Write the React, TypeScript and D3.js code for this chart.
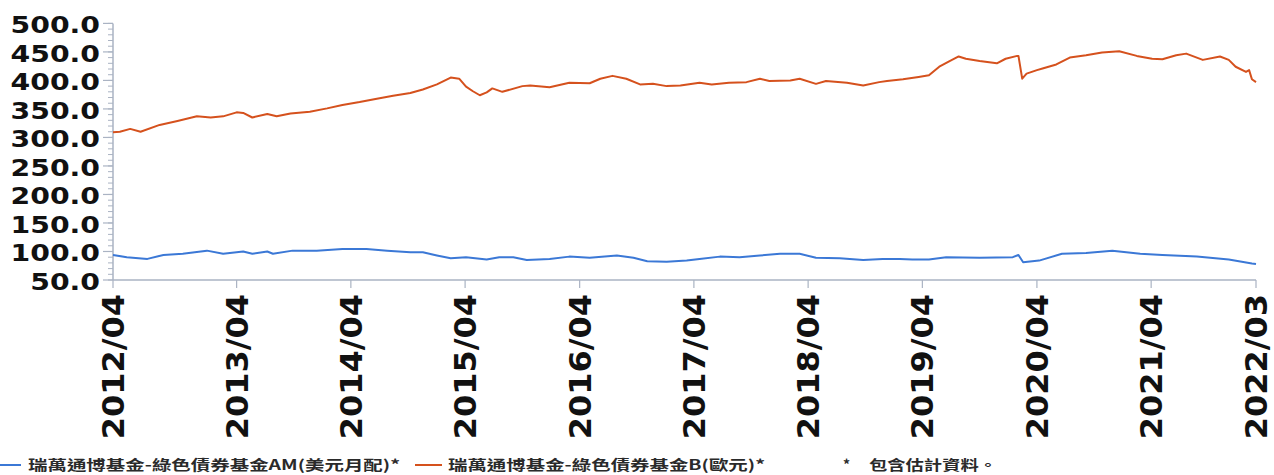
import React from "react";
import * as d3 from "d3";

const xTickDates = [
  "2012-03-02", "2013-04-01", "2014-04-01", "2015-04-01", "2016-04-01", "2017-04-01",
  "2018-04-01", "2019-04-01", "2020-04-01", "2021-04-01", "2022-03-02",
];
const xTickLabels = [
  "2012/04", "2013/04", "2014/04", "2015/04", "2016/04", "2017/04",
  "2018/04", "2019/04", "2020/04", "2021/04", "2022/03",
];
const yTicks = [50, 100, 150, 200, 250, 300, 350, 400, 450, 500];

const seriesNames = [
  "瑞萬通博基金-綠色債券基金AM(美元月配)*",
  "瑞萬通博基金-綠色債券基金B(歐元)*",
];
const noteText = "包含估計資料。";

const amDates = [
  "2012-03-02", "2012-04-15", "2012-06-20", "2012-08-10", "2012-10-11", "2012-12-27",
  "2013-02-17", "2013-04-22", "2013-05-21", "2013-07-08", "2013-07-26", "2013-09-27",
  "2013-12-13", "2014-03-05", "2014-05-21", "2014-07-26", "2014-10-08", "2014-11-17",
  "2015-01-01", "2015-02-14", "2015-04-04", "2015-06-09", "2015-07-19", "2015-09-02",
  "2015-10-15", "2015-12-27", "2016-02-28", "2016-05-03", "2016-07-29", "2016-09-20",
  "2016-11-03", "2017-01-04", "2017-03-09", "2017-04-19", "2017-06-23", "2017-08-25",
  "2017-10-29", "2018-01-01", "2018-03-05", "2018-04-26", "2018-07-11", "2018-09-24",
  "2018-11-25", "2019-01-19", "2019-02-28", "2019-04-22", "2019-06-16", "2019-10-01",
  "2020-01-15", "2020-02-02", "2020-02-17", "2020-04-08", "2020-06-20", "2020-09-05",
  "2020-11-28", "2021-02-25", "2021-05-07", "2021-08-25", "2021-12-05", "2022-02-17",
  "2022-03-02",
];
const amValues = [
  94, 90, 87, 94, 96, 101.5,
  96, 100, 96, 100, 96, 101.5,
  101.5, 104.5, 104.5, 101.5, 98.5, 98.5,
  93, 88, 90, 86, 90, 90,
  85, 87, 91, 89, 93, 89,
  83, 82, 84, 87, 91, 90,
  93, 96, 96, 89, 88, 85,
  87, 87, 86, 86, 90, 89,
  90, 94, 81, 84, 96, 97.5,
  101.5, 96, 94, 91, 86, 79,
  78,
];

const bDates = [
  "2012-03-02", "2012-03-24", "2012-04-26", "2012-05-29", "2012-07-29", "2012-09-24",
  "2012-11-25", "2013-01-08", "2013-02-17", "2013-04-01", "2013-04-22", "2013-05-21",
  "2013-07-08", "2013-08-07", "2013-09-20", "2013-11-21", "2014-01-15", "2014-03-05",
  "2014-04-29", "2014-06-23", "2014-08-14", "2014-10-08", "2014-11-17", "2015-01-01",
  "2015-02-14", "2015-03-13", "2015-04-04", "2015-04-26", "2015-05-18", "2015-06-09",
  "2015-06-27", "2015-07-29", "2015-10-01", "2015-10-26", "2015-12-27", "2016-02-28",
  "2016-05-03", "2016-06-06", "2016-07-15", "2016-08-28", "2016-10-11", "2016-11-21",
  "2017-01-04", "2017-02-17", "2017-04-19", "2017-05-28", "2017-07-22", "2017-09-16",
  "2017-10-29", "2017-11-28", "2018-02-03", "2018-03-05", "2018-04-26", "2018-05-28",
  "2018-08-03", "2018-09-24", "2018-11-14", "2018-12-09", "2019-01-29", "2019-03-20",
  "2019-04-22", "2019-05-25", "2019-06-27", "2019-07-26", "2019-08-18", "2019-10-01",
  "2019-11-25", "2019-12-23", "2020-01-29", "2020-02-02", "2020-02-14", "2020-02-28",
  "2020-04-01", "2020-04-19", "2020-06-02", "2020-07-15", "2020-09-05", "2020-10-26",
  "2020-12-20", "2021-02-14", "2021-04-04", "2021-05-07", "2021-06-20", "2021-07-22",
  "2021-09-13", "2021-11-07", "2021-12-05", "2021-12-27", "2022-01-29", "2022-02-08",
  "2022-02-17", "2022-03-02",
];
const bValues = [
  309, 310, 315, 310, 322, 329,
  337, 335, 337, 344, 343, 335,
  341, 337, 342, 345, 351, 357,
  362, 368, 373, 378, 384, 393,
  405, 403, 389, 381, 374, 379,
  386, 380, 390, 391, 388, 396,
  395, 403, 408, 403, 393, 394,
  390, 391, 396, 393, 396, 397,
  403, 399, 400, 403, 394, 399,
  396, 391, 397, 399, 402, 406,
  409, 424, 434, 442, 438, 434,
  430, 438, 443, 443, 403, 412,
  418, 421, 428, 440, 444, 449,
  451, 443, 438, 437, 444, 447,
  436, 442, 436, 424, 415, 418,
  402, 397,
];

const W = 1274;
const H = 475;
const parse = d3.timeParse("%Y-%m-%d");
const blue = "#3b78d6";
const orange = "#d5511d";
const axisColor = "#aab3c3";

export default function App() {
  const x = d3
    .scaleTime()
    .domain([parse(xTickDates[0])!, parse(xTickDates[xTickDates.length - 1])!])
    .range([113, 1256]);
  const y = d3.scaleLinear().domain([50, 500]).range([280, 23.4]);
  const minor = d3.range(50, 501, 10);
  const fmt = d3.format(".1f");

  const line = d3
    .line<[Date, number]>()
    .x((d) => x(d[0]))
    .y((d) => y(d[1]));

  const amData: [Date, number][] = amDates.map((d, i) => [parse(d)!, amValues[i]]);
  const bData: [Date, number][] = bDates.map((d, i) => [parse(d)!, bValues[i]]);

  const boldFont = "'DejaVu Sans', Verdana, sans-serif";
  const cjkFont = "'Noto Sans CJK TC', 'Noto Sans CJK SC', sans-serif";

  return (
    <svg
      width={W}
      height={H}
      style={{ position: "absolute", left: 0, top: 0, background: "#fff" }}
    >
      {/* y axis */}
      <line x1={113} x2={113} y1={y(500)} y2={y(50)} stroke={axisColor} strokeWidth={1.5} />
      {minor.map((v) => (
        <line key={"m" + v} x1={108} x2={113} y1={y(v)} y2={y(v)} stroke={axisColor} strokeWidth={1} />
      ))}
      {yTicks.map((v) => (
        <g key={"y" + v}>
          <line x1={103} x2={113} y1={y(v)} y2={y(v)} stroke={axisColor} strokeWidth={1.2} />
          <text
            transform={`translate(100,${y(v)}) scale(1.23,1)`}
            dy={10}
            textAnchor="end"
            fontFamily={boldFont}
            fontWeight="bold"
            fontSize={23}
            fill="#111"
          >
            {fmt(v)}
          </text>
        </g>
      ))}

      {/* x axis */}
      <line x1={113} x2={1256} y1={280} y2={280} stroke={axisColor} strokeWidth={1.5} />
      {xTickDates.map((d, i) => {
        const tx = x(parse(d)!);
        return (
          <g key={"x" + d}>
            <line x1={tx} x2={tx} y1={280} y2={288} stroke={axisColor} strokeWidth={1.2} />
            <text
              transform={`translate(${tx},294) rotate(-90) scale(1.066,1)`}
              dy={11}
              textAnchor="end"
              fontFamily={boldFont}
              fontWeight="bold"
              fontSize={30}
              fill="#111"
            >
              {xTickLabels[i]}
            </text>
          </g>
        );
      })}

      {/* series */}
      <path d={line(bData) || ""} fill="none" stroke={orange} strokeWidth={2} strokeLinejoin="round" />
      <path d={line(amData) || ""} fill="none" stroke={blue} strokeWidth={2} strokeLinejoin="round" />

      {/* legend */}
      <line x1={0} x2={21} y1={465} y2={465} stroke={blue} strokeWidth={2} />
      <text
        x={28}
        y={470}
        fontFamily={cjkFont}
        fontWeight="bold"
        fontSize={14}
        fill="#2a2a2a"
        textLength={372}
        lengthAdjust="spacingAndGlyphs"
      >
        {seriesNames[0]}
      </text>
      <line x1={415} x2={442} y1={465} y2={465} stroke={orange} strokeWidth={2} />
      <text
        x={448}
        y={470}
        fontFamily={cjkFont}
        fontWeight="bold"
        fontSize={14}
        fill="#2a2a2a"
        textLength={317}
        lengthAdjust="spacingAndGlyphs"
      >
        {seriesNames[1]}
      </text>
      <text x={843} y={470} fontFamily={cjkFont} fontWeight="bold" fontSize={14} fill="#2a2a2a">
        *
      </text>
      <text
        x={869}
        y={470}
        fontFamily={cjkFont}
        fontWeight="bold"
        fontSize={14}
        fill="#2a2a2a"
        textLength={128}
        lengthAdjust="spacingAndGlyphs"
      >
        {noteText}
      </text>
    </svg>
  );
}
